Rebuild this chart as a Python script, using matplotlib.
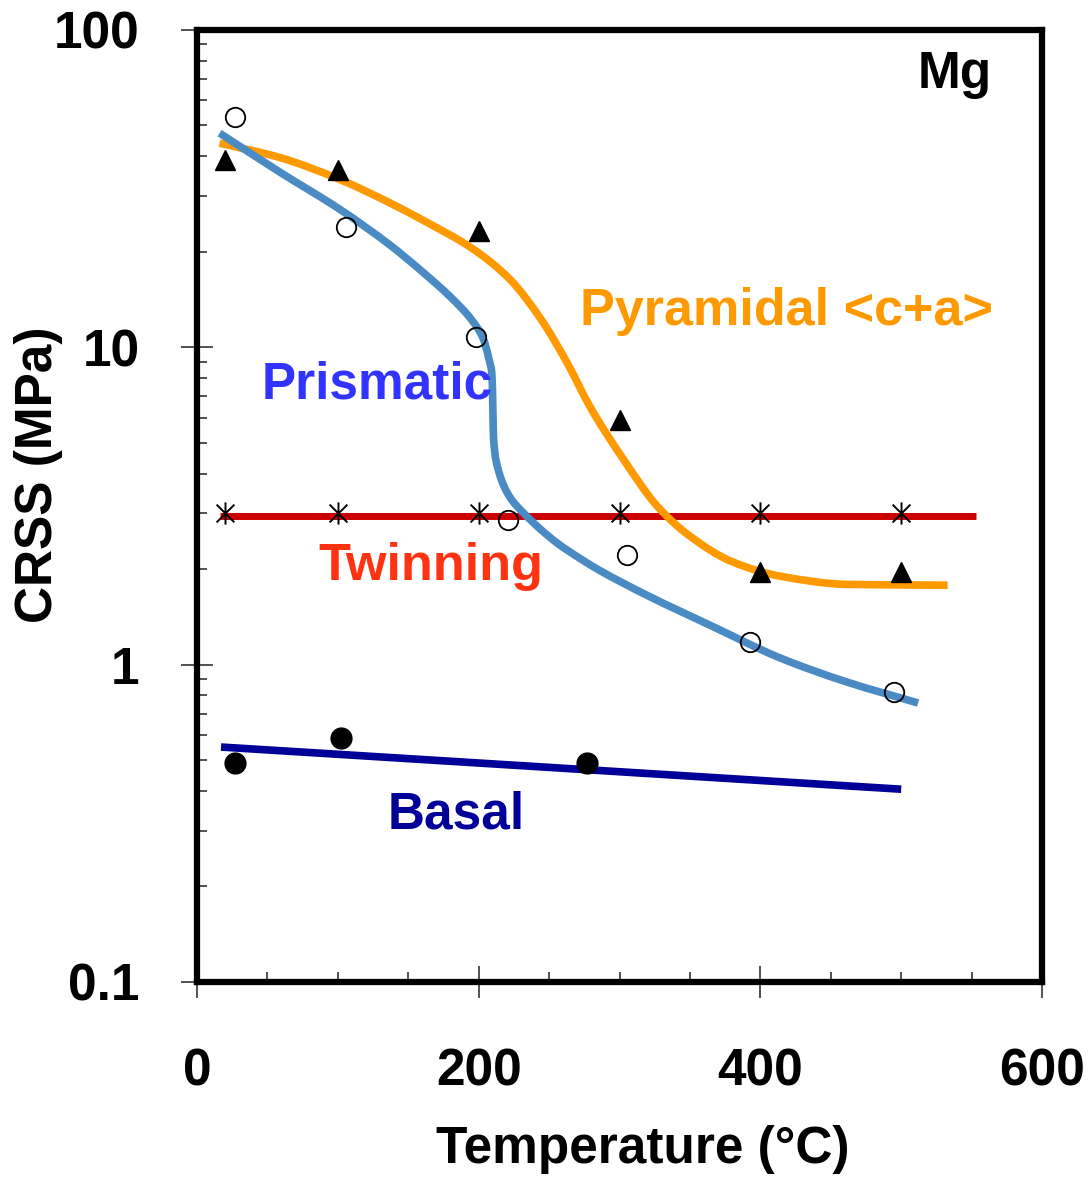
import numpy as np
import matplotlib
matplotlib.use("Agg")
import matplotlib.pyplot as plt
from matplotlib.path import Path
from matplotlib.patches import PathPatch
from matplotlib.ticker import MultipleLocator, LogLocator, NullFormatter

plt.rcParams['font.family'] = ['Liberation Sans', 'DejaVu Sans']
plt.rcParams['font.weight'] = 'bold'

# measured points
pyr_T = [20, 100, 200, 300, 400, 500]
pyr_v = [39, 36.2, 23.3, 5.9, 1.96, 1.96]

prism_T = [27, 106, 198, 221, 305, 393, 495]
prism_v = [53, 23.9, 10.8, 2.86, 2.21, 1.18, 0.82]

twin_T = [20, 100, 200, 300, 400, 500]
twin_v = [3.0, 3.0, 3.0, 3.0, 3.0, 3.0]

basal_T = [27, 102, 277]
basal_v = [0.49, 0.587, 0.49]

# fitted curves
prism_fit_T = [16, 59, 102, 137, 160, 180, 195, 203, 207.5, 209.3, 210, 210.5, 214,
               222, 232, 255, 272, 286, 320, 366, 414, 462, 512]
prism_fit_v = [47.3, 35.6, 27.1, 21.0, 17.3, 14.4, 12.2, 10.7, 9.1, 8.3, 6.7, 5.2, 4.1,
               3.38, 3.0, 2.43, 2.16, 1.98, 1.65, 1.32, 1.05, 0.88, 0.757]

pyr_fit_T = [16, 59, 102, 137, 160, 196, 222, 244, 263, 279, 303, 327, 350, 380,
             414, 462, 533]
pyr_fit_v = [44, 39.6, 33.7, 28.5, 25.2, 20.4, 16.4, 12.3, 8.9, 6.5, 4.42, 3.15, 2.54, 2.11,
             1.90, 1.79, 1.78]

twin_fit_T = [16, 553]
twin_fit_v = [2.95, 2.95]

basal_fit_T = [17, 500]
basal_fit_v = [0.55, 0.405]


def smooth_path(xs, ys):
    # smooth line through the points: monotone cubic segments in (T, log v)
    x = np.asarray(xs, float)
    y = np.log10(np.asarray(ys, float))
    h = np.diff(x)
    d = np.diff(y) / h
    m = np.zeros_like(x)
    m[0], m[-1] = d[0], d[-1]
    for i in range(1, len(x) - 1):
        if d[i - 1] * d[i] > 0:
            w1 = 2 * h[i] + h[i - 1]
            w2 = h[i] + 2 * h[i - 1]
            m[i] = (w1 + w2) / (w1 / d[i - 1] + w2 / d[i])
    verts = [(x[0], 10 ** y[0])]
    codes = [Path.MOVETO]
    for i in range(len(x) - 1):
        verts += [(x[i] + h[i] / 3, 10 ** (y[i] + m[i] * h[i] / 3)),
                  (x[i + 1] - h[i] / 3, 10 ** (y[i + 1] - m[i + 1] * h[i] / 3)),
                  (x[i + 1], 10 ** y[i + 1])]
        codes += [Path.CURVE4] * 3
    return Path(verts, codes)


# asterisk: vertical bar plus an X
star = Path([(0, -1), (0, 1), (-0.8, -0.8), (0.8, 0.8), (-0.8, 0.8), (0.8, -0.8)],
            [Path.MOVETO, Path.LINETO] * 3)

fig = plt.figure(figsize=(10.91, 11.79), dpi=100)
ax = fig.add_axes([0.1806, 0.1671, 0.7745, 0.8075])

ax.set_yscale('log')
ax.set_xlim(0, 600)
ax.set_ylim(0.1, 100)

lw = 5.5
ax.plot(twin_fit_T, twin_fit_v, color='#cc0000', lw=5, solid_capstyle='butt', zorder=2)
ax.plot(basal_fit_T, basal_fit_v, color='#000099', lw=lw, solid_capstyle='butt', zorder=2)
ax.add_patch(PathPatch(smooth_path(pyr_fit_T, pyr_fit_v), fill=False, edgecolor='#ff9900',
                       lw=lw, capstyle='butt', joinstyle='round', zorder=2))
ax.add_patch(PathPatch(smooth_path(prism_fit_T, prism_fit_v), fill=False, edgecolor='#4a8bc4',
                       lw=lw, capstyle='butt', joinstyle='round', zorder=3))

ax.plot(pyr_T, pyr_v, linestyle='none', marker='^', ms=14, color='black', zorder=4)
ax.plot(prism_T, prism_v, linestyle='none', marker='o', ms=14, mfc='none',
        mec='black', mew=1.3, zorder=4)
ax.plot(twin_T, twin_v, linestyle='none', marker=star, ms=16, color='black',
        mew=1.4, zorder=4)
ax.plot(basal_T, basal_v, linestyle='none', marker='o', ms=15, color='black', zorder=4)

ax.text(512, 65.6, 'Mg', fontsize=37, fontweight='bold', color='black')
ax.text(272, 11.75, 'Pyramidal <c+a>', fontsize=37.5, fontweight='bold', color='#ff9900')
ax.text(46, 6.92, 'Prismatic', fontsize=37, fontweight='bold', color='#3333ff')
ax.text(86, 1.85, 'Twinning', fontsize=37.5, fontweight='bold', color='#ff3311')
ax.text(135, 0.305, 'Basal', fontsize=37, fontweight='bold', color='#000099')

ax.set_xticks([0, 200, 400, 600])
ax.set_xticklabels(['0', '200', '400', '600'])
ax.xaxis.set_minor_locator(MultipleLocator(50))
ax.set_yticks([0.1, 1, 10, 100])
ax.set_yticklabels(['0.1', '1', '10', '100'])
ax.yaxis.set_minor_locator(LogLocator(base=10, subs=np.arange(2, 10)))
ax.yaxis.set_minor_formatter(NullFormatter())

for lab in ax.get_xticklabels() + ax.get_yticklabels():
    lab.set_fontsize(37)
    lab.set_fontweight('bold')

ax.tick_params(axis='both', which='major', direction='inout', length=23, width=1.2,
               color='#333333')
ax.tick_params(axis='x', which='major', pad=36)
ax.tick_params(axis='y', which='major', pad=30)
ax.tick_params(axis='both', which='minor', direction='in', length=7, width=1.2,
               color='#333333')

for sp in ax.spines.values():
    sp.set_linewidth(4.5)
    sp.set_color('black')

fig.text(643 / 1091, 1 - 1150 / 1179, 'Temperature (°C)', fontsize=37,
         fontweight='bold', ha='center', va='center')
fig.text(39 / 1091, 1 - 475 / 1179, 'CRSS (MPa)', fontsize=37, fontweight='bold',
         rotation=90, ha='center', va='center')

fig.savefig('out.png', dpi=100)
